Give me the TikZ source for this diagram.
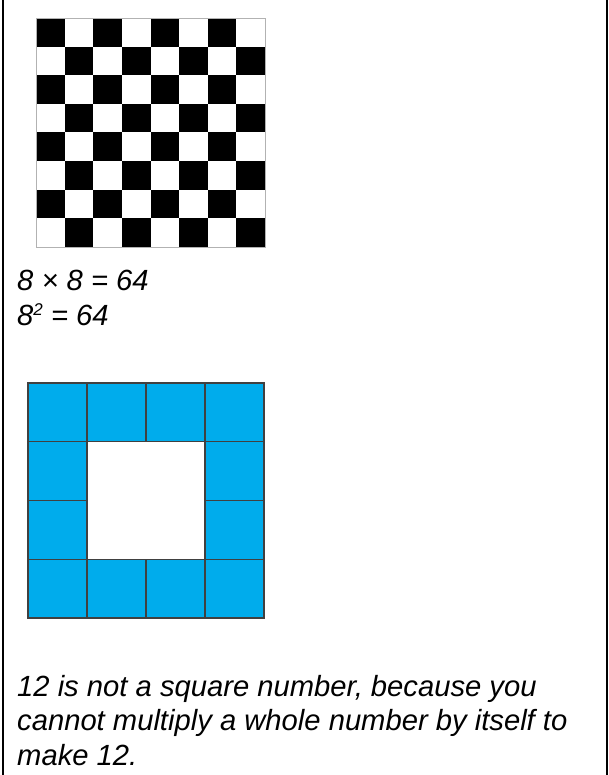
\documentclass[tikz,border=0pt]{standalone}
\usepackage{fontspec}
\setmainfont{Liberation Sans}
\usetikzlibrary{positioning}
\definecolor{ringblue}{RGB}{0,172,236}

\begin{document}
\begin{tikzpicture}[x=1pt, y=-1pt,
  txt/.style={anchor=base west, inner sep=0pt, align=left, font=\fontsize{29.2}{34.3}\selectfont\itshape},
  cell/.style={draw=black!75, line width=1.2pt, fill=ringblue},
]
\useasboundingbox (0,0) rectangle (608,775);
% Side rules
\draw[line width=2pt] (2.5,0) -- (2.5,775) (606.5,0) -- (606.5,775);
% Chessboard
\foreach \r in {0,...,7}
  \foreach \c in {0,...,7} {
    \pgfmathtruncatemacro{\odd}{mod(\r+\c,2)}
    \ifnum\odd=0 \fill (36+\c*28.625, 18+\r*28.625) rectangle ++(28.625,28.625); \fi
  }
\draw[gray!60, line width=0.8pt] (36,18) rectangle (265,247);
% Square equations (anchored at the last baseline)
\node[txt] (eqn) at (17,325) {8 × 8 = 64\\8{\fontsize{17}{17}\selectfont\raisebox{0.55em}{2}} = 64};
% Ring of twelve tiles
\foreach \c/\r in {0/0,1/0,2/0,3/0,0/1,3/1,0/2,3/2,0/3,1/3,2/3,3/3}
  \draw[cell] (28+\c*59, 383+\r*58.75) rectangle ++(59,58.75);
% Conclusion
\node[txt] (note) at (17,765) {12 is not a square number, because you\\cannot multiply a whole number by itself to\\make 12.};
\end{tikzpicture}
\end{document}
